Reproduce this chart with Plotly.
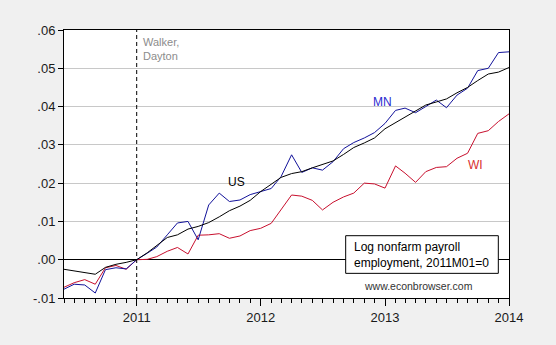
import pandas as pd
import plotly.graph_objects as go

months = pd.date_range("2010-06-01", periods=44, freq="MS")

us = [-0.0025, -0.0029, -0.0033, -0.0038, -0.0020, -0.0012, -0.0007, 0.0000,
      0.0018, 0.0036, 0.0058, 0.0065, 0.0080, 0.0087, 0.0097, 0.0112,
      0.0128, 0.0140, 0.0155, 0.0178, 0.0198, 0.0215, 0.0225, 0.0230,
      0.0240, 0.0248, 0.0258, 0.0275, 0.0293, 0.0305, 0.0318, 0.0342,
      0.0358, 0.0372, 0.0390, 0.0404, 0.0412, 0.0420, 0.0436, 0.0450,
      0.0468, 0.0485, 0.0490, 0.0502]

mn = [-0.0077, -0.0064, -0.0066, -0.0087, -0.0026, -0.0021, -0.0024, 0.0000,
      0.0017, 0.0033, 0.0065, 0.0096, 0.0100, 0.0052, 0.0143, 0.0174,
      0.0152, 0.0156, 0.0170, 0.0178, 0.0186, 0.0217, 0.0274, 0.0228,
      0.0240, 0.0234, 0.0256, 0.0290, 0.0306, 0.0318, 0.0332, 0.0356,
      0.0390, 0.0396, 0.0384, 0.0400, 0.0417, 0.0397, 0.0430, 0.0448,
      0.0494, 0.0500, 0.0541, 0.0543]

wi = [-0.0072, -0.0060, -0.0052, -0.0064, -0.0021, -0.0015, -0.0025, 0.0000,
      0.0001, 0.0008, 0.0022, 0.0032, 0.0015, 0.0064, 0.0065, 0.0068,
      0.0056, 0.0062, 0.0076, 0.0082, 0.0095, 0.0130, 0.0169, 0.0166,
      0.0155, 0.0130, 0.0150, 0.0164, 0.0174, 0.0200, 0.0198, 0.0187,
      0.0245, 0.0226, 0.0202, 0.0230, 0.0241, 0.0243, 0.0265, 0.0278,
      0.0330, 0.0337, 0.0361, 0.0381]

year_ticks = ["2011-01-01", "2012-01-01", "2013-01-01", "2014-01-01"]
year_labels = ["2011", "2012", "2013", "2014"]
y_ticks = [-0.01, 0.00, 0.01, 0.02, 0.03, 0.04, 0.05, 0.06]
y_labels = ["-.01", ".00", ".01", ".02", ".03", ".04", ".05", ".06"]

FONT = "Liberation Sans, Arial, sans-serif"

fig = go.Figure()
fig.add_trace(go.Scatter(x=months, y=wi, mode="lines", name="WI",
                         line=dict(color="#c8102e", width=1)))
fig.add_trace(go.Scatter(x=months, y=mn, mode="lines", name="MN",
                         line=dict(color="#12129a", width=1)))
fig.add_trace(go.Scatter(x=months, y=us, mode="lines", name="US",
                         line=dict(color="#000000", width=1)))

fig.update_layout(
    width=556, height=345,
    margin=dict(l=64, r=47, t=30, b=47),
    paper_bgcolor="#f0f0f0",
    plot_bgcolor="#ffffff",
    showlegend=False,
    font=dict(family=FONT, size=13, color="#1a1a1a"),
    xaxis=dict(
        range=["2010-06-01", "2014-01-01"],
        tickvals=year_ticks, ticktext=year_labels,
        ticks="outside", ticklen=7, tickcolor="#000", tickwidth=1,
        minor=dict(dtick="M1", tick0="2010-06-01", ticks="outside",
                   ticklen=4, tickcolor="#000", tickwidth=1, showgrid=False),
        showgrid=False, zeroline=False,
        showline=True, linecolor="#000", linewidth=1, mirror=True,
        tickfont=dict(size=13),
    ),
    yaxis=dict(
        range=[-0.01, 0.06],
        tickvals=y_ticks, ticktext=y_labels,
        ticks="outside", ticklen=5, tickcolor="#000", tickwidth=1,
        showgrid=True, gridcolor="#c8c8c8", gridwidth=1,
        zeroline=True, zerolinecolor="#000", zerolinewidth=1,
        showline=True, linecolor="#000", linewidth=1, mirror=True,
        tickfont=dict(size=13),
    ),
)

fig.add_shape(type="line", xref="x", yref="paper",
              x0="2011-01-01", x1="2011-01-01", y0=0, y1=1,
              line=dict(color="#000", width=1, dash="4px,3px"))

# Legend-like text box
fig.add_shape(type="rect", xref="paper", yref="paper",
              x0=0.633, x1=0.976, y0=0.092, y1=0.2325,
              fillcolor="#ffffff", line=dict(color="#000", width=1),
              layer="above")
fig.add_annotation(xref="paper", yref="paper", x=0.647, y=0.162,
                   xanchor="left", yanchor="middle", align="left",
                   text="Log nonfarm payroll<br>employment, 2011M01=0",
                   showarrow=False, font=dict(size=12, color="#000"))

fig.add_annotation(xref="x", yref="paper", x="2011-01-01", y=0.985,
                   xanchor="left", yanchor="top", xshift=4, align="left",
                   text="Walker,<br>Dayton", showarrow=False,
                   font=dict(size=11, color="#8c8c8c"))

fig.add_annotation(x="2011-10-22", y=0.0204, text="US", showarrow=False,
                   font=dict(size=12, color="#000"))
fig.add_annotation(x="2012-12-26", y=0.0412, text="MN", showarrow=False,
                   font=dict(size=12, color="#2a2ad0"))
fig.add_annotation(x="2013-09-25", y=0.0247, text="WI", showarrow=False,
                   font=dict(size=12, color="#d83030"))

fig.add_annotation(xref="paper", yref="paper", x=0.797, y=0.045,
                   xanchor="center", yanchor="middle",
                   text="www.econbrowser.com", showarrow=False,
                   font=dict(size=10.5, color="#333"))

fig.write_html("out.html")
